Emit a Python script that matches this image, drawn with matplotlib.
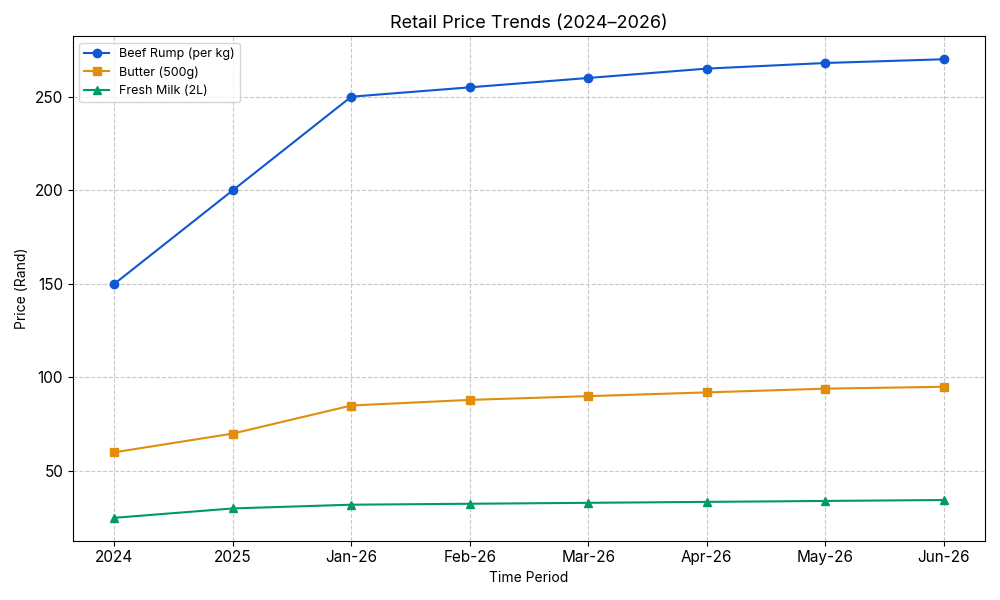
import matplotlib
matplotlib.use('Agg')
from matplotlib import pyplot as plt

plt.rcParams['font.family'] = ['Inter', 'DejaVu Sans']

periods = ['2024', '2025', 'Jan-26', 'Feb-26', 'Mar-26', 'Apr-26', 'May-26', 'Jun-26']
beef = [150, 200, 250, 255, 260, 265, 268, 270]
butter = [60, 70, 85, 88, 90, 92, 94, 95]
milk = [25, 30, 32, 32.5, 33, 33.5, 34, 34.5]

fig, ax = plt.subplots(figsize=(10, 6), dpi=100)

ax.plot(periods, beef, marker='o', color='#1058d0', linewidth=1.5, markersize=6, label='Beef Rump (per kg)')
ax.plot(periods, butter, marker='s', color='#e08e0b', linewidth=1.5, markersize=6, label='Butter (500g)')
ax.plot(periods, milk, marker='^', color='#009a6a', linewidth=1.5, markersize=6, label='Fresh Milk (2L)')

ax.set_title('Retail Price Trends (2024–2026)', fontsize=13)
ax.set_xlabel('Time Period', fontsize=10)
ax.set_ylabel('Price (Rand)', fontsize=10)
ax.tick_params(axis='both', labelsize=11)
ax.grid(True, linestyle='--', color='#c8c8c8', linewidth=0.8)
ax.legend(loc='upper left', fontsize=9)

plt.tight_layout()
plt.savefig('out.png')
